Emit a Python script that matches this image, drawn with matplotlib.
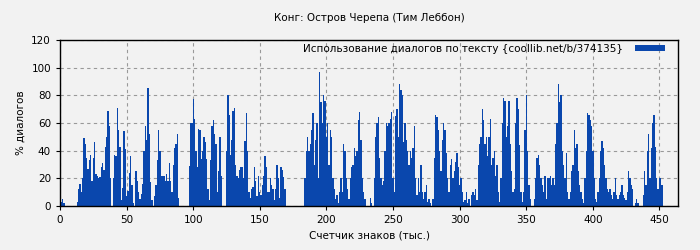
import matplotlib.pyplot as plt
import numpy as np

title = 'Конг: Остров Черепа (Тим Леббон)'
legend_label = 'Использование диалогов по тексту {coollib.net/b/374135}'
x_label = 'Счетчик знаков (тыс.)'
y_label = '% диалогов'

# % dialogue per thousand characters, chunks
seg_001_044 = [3, 5, 2, 0, 0, 0, 0, 0, 0, 0, 0, 0,
               3, 12, 16, 10, 20, 49, 45, 35, 27, 33, 37, 18, 35, 46, 23, 22, 20, 21,
               28, 31, 26, 43, 50, 69, 58, 20, 0, 20, 37, 36, 71, 55]
seg_045_092 = [43, 4, 13, 54, 41, 7, 11, 24, 36, 15, 2, 0, 25, 18, 10, 5, 9, 16, 40, 58,
               48, 85, 52, 17, 4, 0, 7, 15, 33, 55, 40, 22, 22, 22, 18, 23, 18, 31, 18, 10,
               30, 42, 45, 52, 6, 0, 0, 0]
seg_093_139 = [0, 0, 0, 0, 29, 60, 60, 77, 63, 40, 28, 56, 55, 34, 40, 50, 46, 34, 12, 4,
               33, 58, 62, 52, 45, 10, 25, 50, 22, 0, 0, 0, 40, 80, 66, 37, 48, 69, 71, 30,
               22, 20, 26, 28, 28, 20, 47]
seg_140_185 = [67, 40, 10, 6, 12, 14, 28, 18, 7, 22, 10, 8, 15, 22, 36, 28, 10, 10, 20, 15,
               12, 4, 12, 30, 20, 6, 28, 26, 21, 12,
               0, 0, 0, 0, 0, 0, 0, 0, 0, 0, 0, 0, 0, 0, 20, 40]
seg_186_233 = [50, 40, 45, 55, 67, 30, 48, 60, 20, 97, 75, 60, 80, 76, 50, 60, 30, 55, 50, 20,
               12, 5, 8, 2, 10, 20, 10, 45, 40, 20, 12, 5, 20, 28, 30, 42, 36, 40, 62, 68,
               48, 20, 10, 5, 0, 0, 0, 6]
seg_234_280 = [2, 0, 20, 50, 60, 64, 35, 20, 15, 18, 40, 60, 58, 60, 63, 68, 20, 10, 65, 70,
               50, 88, 84, 80, 46, 60, 48, 40, 30, 40, 35, 42, 58, 20, 8, 20, 10, 30, 10, 5,
               10, 15, 3, 5, 2, 0, 5]
seg_281_327 = [35, 66, 64, 55, 40, 25, 48, 60, 55, 38, 20, 10, 30, 34, 20, 25, 32, 38, 28, 15,
               20, 10, 3, 4, 10, 2, 5, 0, 8, 10, 8, 12, 4, 30, 45, 50, 70, 62, 45, 50,
               36, 50, 63, 30, 35, 40, 22]
seg_328_373 = [30, 10, 3, 20, 60, 78, 76, 50, 58, 76, 45, 25, 10, 12, 60, 78, 70, 44, 10, 3,
               10, 55, 80, 40, 15, 5, 0, 0, 5, 20, 35, 37, 30, 20, 15, 10, 22, 5, 20, 20,
               22, 15, 20, 15, 45, 60]
seg_374_421 = [88, 75, 80, 40, 30, 20, 38, 10, 5, 10, 25, 30, 55, 42, 45, 25, 15, 10, 5, 2,
               20, 40, 67, 66, 62, 58, 40, 20, 5, 3, 10, 20, 40, 47, 42, 30, 20, 12, 10, 12,
               8, 5, 10, 20, 8, 5, 8, 10]
seg_422_452 = [15, 8, 6, 4, 10, 25, 20, 15, 12, 0, 2, 5, 2, 0, 0, 0, 8, 25, 15, 40,
               52, 20, 42, 60, 66, 43, 20, 12, 20, 20, 15]

values = np.array(seg_001_044 + seg_045_092 + seg_093_139 + seg_140_185 + seg_186_233
                  + seg_234_280 + seg_281_327 + seg_328_373 + seg_374_421 + seg_422_452)
pos = np.arange(1, len(values) + 1)

bg = '#f2f2f2'
bar_col = '#0a47ad'

plt.rcParams['font.family'] = 'DejaVu Sans'
plt.rcParams['font.size'] = 7.5

fig = plt.figure(figsize=(7, 2.5), dpi=100, facecolor=bg)
ax = fig.add_axes([0.0857, 0.176, 0.883, 0.664], facecolor=bg)

ax.bar(pos, values, width=1.0, color=bar_col, linewidth=0, label=legend_label, zorder=2)

ax.set_xlim(0, 464)
ax.set_ylim(0, 120)
ax.set_xticks(np.arange(0, 451, 50))
ax.set_yticks(np.arange(0, 121, 20))
ax.grid(True, color='#999999', linestyle=(0, (3, 3)), linewidth=0.8, zorder=0)
ax.set_axisbelow(True)
for s in ax.spines.values():
    s.set_linewidth(1.0)
    s.set_color('black')
ax.tick_params(length=3, width=0.8, labelsize=7.5)

ax.set_title(title, fontsize=7.5, pad=14)
ax.set_xlabel(x_label, fontsize=7.5)
ax.set_ylabel(y_label, fontsize=7.5)

leg = ax.legend(loc='upper right', bbox_to_anchor=(0.989, 1.015), frameon=False,
                fontsize=7.5, handlelength=2.9, handleheight=0.6, borderaxespad=0.2,
                handletextpad=1.1, markerfirst=False)

fig.savefig('out.png', dpi=100, facecolor=bg)
